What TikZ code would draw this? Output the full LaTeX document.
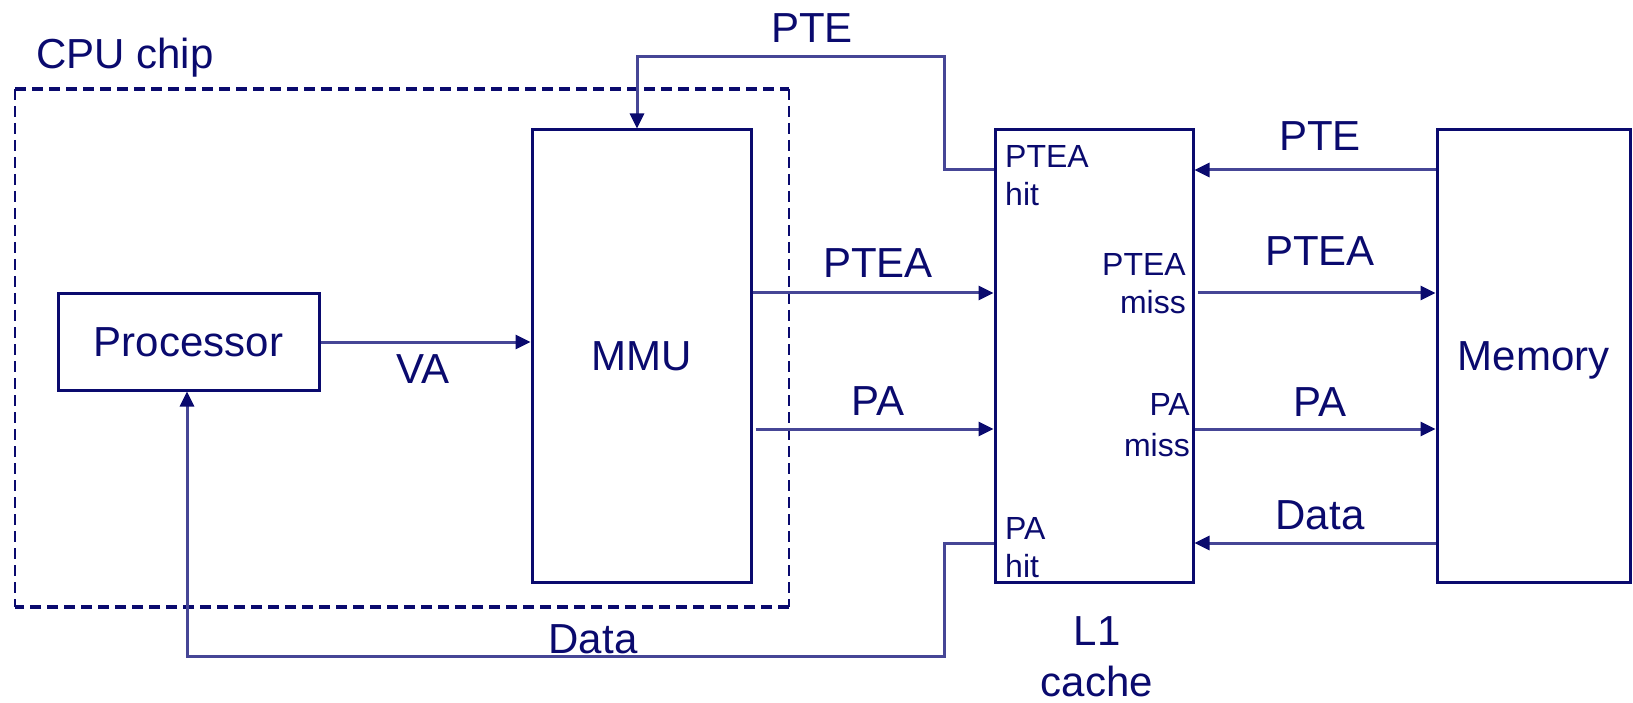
\documentclass[tikz,border=0pt]{standalone}
\usepackage{fontspec}
\setmainfont{Liberation Sans}
\usetikzlibrary{arrows.meta}
\definecolor{navy}{RGB}{10,10,110}
\definecolor{connc}{RGB}{70,70,150}
\tikzset{
  big/.style={font=\fontsize{42}{51}\selectfont, text=navy, inner sep=0pt},
  small/.style={font=\fontsize{32}{38}\selectfont, text=navy, inner sep=0pt},
  blk/.style={draw=navy, line width=3pt, fill=white, inner sep=0pt,
    font=\fontsize{42}{51}\selectfont, text=navy, text depth=0pt},
  conn/.style={draw=connc, line width=3pt},
  arr/.style={conn, -{Triangle[length=15pt,width=14pt,color=navy]}},
  cpudash/.style={draw=navy, dash pattern=on 11pt off 6pt}
}
\begin{document}
\begin{tikzpicture}[x=1pt,y=-1pt]
\useasboundingbox (0,0) rectangle (1633,703);

% CPU chip dashed outline
\coordinate (cpuNW) at (15,89);
\coordinate (cpuSE) at (789,607);
\draw[cpudash, line width=3.5pt] (cpuNW) -- (cpuNW -| cpuSE);
\draw[cpudash, line width=3.5pt] (cpuSE |- cpuSE) -- (cpuNW |- cpuSE);
\draw[cpudash, line width=2pt] (cpuNW) -- (cpuNW |- cpuSE);
\draw[cpudash, line width=2pt] (cpuNW -| cpuSE) -- (cpuSE);
\node[big, anchor=base west] (cpulbl) at (36,69) {CPU chip};

% blocks
\node[blk, minimum width=261pt, minimum height=96pt] (proc) at (188.5,342) {Processor};
\node[blk, minimum width=219pt, minimum height=452pt] (mmu) at (641.5,356) {MMU};
\node[blk, minimum width=198pt, minimum height=452pt] (l1) at (1094,356) {};
\node[blk, minimum width=193pt, minimum height=452pt] (mem) at (1533.5,356) {Memory};

% y levels
\coordinate (yPTE) at (0,170);
\coordinate (yPTEA) at (0,293);
\coordinate (yPA) at (0,429);
\coordinate (yData) at (0,543);
\coordinate (cA) at (944,57);
\coordinate (cB) at (637,57);
\coordinate (cC) at (944,656);
\coordinate (cD) at (187,656);

% connectors
\draw[arr] (proc.east) -- (mmu.west |- proc.east);
\draw[arr] (mmu.east |- yPTEA) -- (l1.west |- yPTEA);
\draw[arr] ([xshift=3pt]mmu.east |- yPA) -- (l1.west |- yPA);
\draw[arr] (l1.west |- yPTE) -| (cA) -- (cB) -- (cB |- mmu.north);
\draw[arr] (l1.west |- yData) -| (cC) -- (cD) -- (cD |- proc.south);
\draw[arr] (mem.west |- yPTE) -- (l1.east |- yPTE);
\draw[arr] ([xshift=3pt]l1.east |- yPTEA) -- (mem.west |- yPTEA);
\draw[arr] (l1.east |- yPA) -- (mem.west |- yPA);
\draw[arr] (mem.west |- yData) -- (l1.east |- yData);

% connector labels
\node[big, anchor=base] (lpte1) at (812,43) {PTE};
\node[big, anchor=base] (lpte2) at (1320,151) {PTE};
\node[big, anchor=base] (lptea1) at (878,278) {PTEA};
\node[big, anchor=base] (lptea2) at (1320,266) {PTEA};
\node[big, anchor=base] (lpa1) at (878,415) {PA};
\node[big, anchor=base] (lpa2) at (1320,416) {PA};
\node[big, anchor=base] (ldata2) at (1320,529) {Data};
\node[big, anchor=base] (lva) at (423,383) {VA};
\node[big, anchor=base] (ldata1) at (593,653) {Data};

% L1 internal labels
\node[small, align=left, anchor=north west] (hit1) at (1005,145) {PTEA\\hit};
\node[small, align=right, anchor=north east] (miss1) at (1186,253) {PTEA\\miss};
\node[small, align=right, anchor=north east, font=\fontsize{32}{41}\selectfont] (miss2) at (1190,393) {PA\\miss};
\node[small, align=left, anchor=north west] (hit2) at (1005,517) {PA\\hit};
\node[big, align=center, anchor=north] (l1lbl) at (1097,616) {L1\\cache};
\end{tikzpicture}
\end{document}
